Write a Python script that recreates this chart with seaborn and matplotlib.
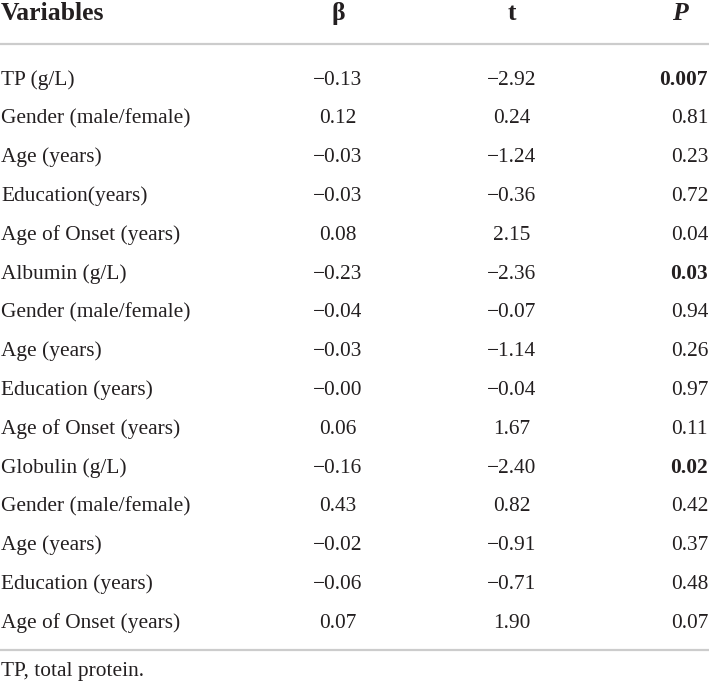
import matplotlib
matplotlib.use("Agg")
import matplotlib.pyplot as plt
import seaborn as sns

# table content
variables = [
    "TP (g/L)", "Gender (male/female)", "Age (years)", "Education(years)", "Age of Onset (years)",
    "Albumin (g/L)", "Gender (male/female)", "Age (years)", "Education (years)", "Age of Onset (years)",
    "Globulin (g/L)", "Gender (male/female)", "Age (years)", "Education (years)", "Age of Onset (years)",
]
beta = ["\u22120.13", "0.12", "\u22120.03", "\u22120.03", "0.08",
        "\u22120.23", "\u22120.04", "\u22120.03", "\u22120.00", "0.06",
        "\u22120.16", "0.43", "\u22120.02", "\u22120.06", "0.07"]
t_vals = ["\u22122.92", "0.24", "\u22121.24", "\u22120.36", "2.15",
          "\u22122.36", "\u22120.07", "\u22121.14", "\u22120.04", "1.67",
          "\u22122.40", "0.82", "\u22120.91", "\u22120.71", "1.90"]
p_vals = ["0.007", "0.81", "0.23", "0.72", "0.04",
          "0.03", "0.94", "0.26", "0.97", "0.11",
          "0.02", "0.42", "0.37", "0.48", "0.07"]
bold_p = [True, False, False, False, False,
          True, False, False, False, False,
          True, False, False, False, False]
headers = ["Variables", "\u03b2", "t", "P"]
footnote = "TP, total protein."

sns.set_theme(style="white")
plt.rcParams["font.family"] = ["Liberation Serif", "DejaVu Serif"]

W, H = 709, 685
fig = plt.figure(figsize=(W / 100, H / 100), dpi=100)
ax = fig.add_axes([0, 0, 1, 1])
ax.set_xlim(0, W)
ax.set_ylim(H, 0)
ax.axis("off")

txt_color = "#231f20"
line_color = "#cccccc"
body_fs = 15.4
head_fs = 18.5

x_var, x_beta, x_t, x_p = 1, 338, 512, 708
x_p_head = 680
y_head = 19.5
y_first = 84.5
row_h = 38.8

kw = dict(va="baseline", color=txt_color)
ax.text(x_var, y_head, headers[0], fontsize=head_fs, fontweight="bold", ha="left", **kw)
ax.text(x_beta, y_head, headers[1], fontsize=head_fs, fontweight="bold", ha="center", **kw)
ax.text(x_t, y_head, headers[2], fontsize=head_fs, fontweight="bold", ha="center", **kw)
ax.text(x_p_head, y_head, headers[3], fontsize=head_fs, fontweight="bold", fontstyle="italic",
        ha="center", **kw)

ax.plot([0, W], [43.5, 43.5], color=line_color, lw=1.6, solid_capstyle="butt")

for i, (v, b, tv, p, bp) in enumerate(zip(variables, beta, t_vals, p_vals, bold_p)):
    y = y_first + i * row_h
    ax.text(x_var, y, v, fontsize=body_fs, ha="left", **kw)
    ax.text(x_beta, y, b, fontsize=body_fs, ha="center", **kw)
    ax.text(x_t, y, tv, fontsize=body_fs, ha="center", **kw)
    ax.text(x_p, y, p, fontsize=body_fs, ha="right", fontweight="bold" if bp else "normal", **kw)

y_bottom = y_first + (len(variables) - 1) * row_h + 22
ax.plot([0, W], [y_bottom, y_bottom], color=line_color, lw=1.6, solid_capstyle="butt")
ax.text(x_var, y_bottom + 26, footnote, fontsize=body_fs, ha="left", **kw)

fig.savefig("out.png", dpi=100, facecolor="white")
